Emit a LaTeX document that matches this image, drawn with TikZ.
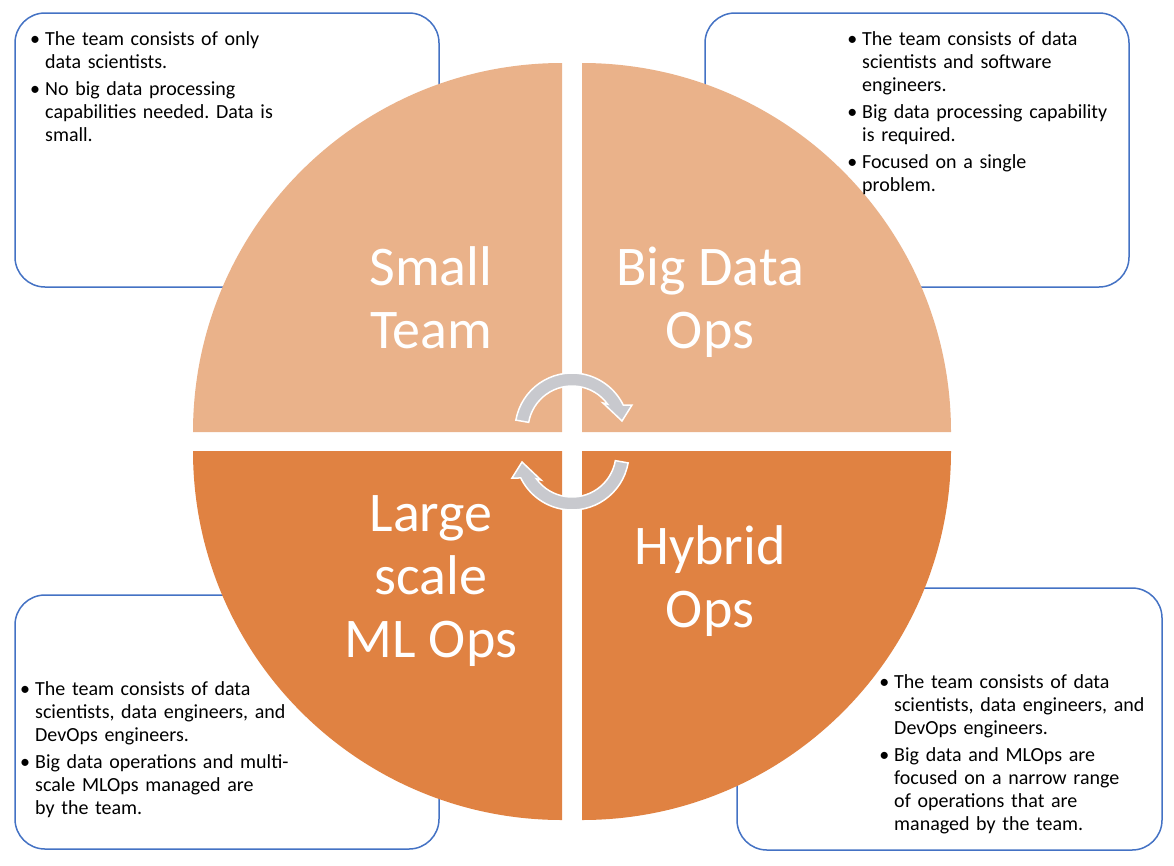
\documentclass[tikz,border=0pt]{standalone}
\usepackage{fontspec}
\setmainfont{Carlito}
\usepackage{enumitem}
\usepackage{tikz}
\usetikzlibrary{calc}
\setlist[itemize]{leftmargin=13pt,labelsep=5pt,itemsep=4pt,topsep=0pt,parsep=0pt,partopsep=0pt}
\frenchspacing

\definecolor{lightorange}{RGB}{234,178,138}
\definecolor{darkorange}{RGB}{224,130,66}
\definecolor{boxblue}{RGB}{68,114,196}
\definecolor{arrowgray}{RGB}{200,201,206}

\tikzset{
	infobox/.style={draw=boxblue, line width=1.5pt, rounded corners=30pt, fill=white, inner sep=0pt},
	quadlabel/.style={text=white, font=\fontsize{56}{63}\selectfont, align=center, anchor=base},
	bullets/.style={font=\fontsize{20}{23}\selectfont, text width=300pt, align=left, inner sep=0pt, anchor=base west},
	cycarrow/.style={fill=arrowgray, draw=white, line width=1.5pt}
}

\begin{document}
\begin{tikzpicture}[x=1pt, y=1pt]
	\useasboundingbox (0,0) rectangle (1174,-865);

	\node[infobox, minimum width=424, minimum height=274] (boxSmall) at (227,-150)   {};
	\node[infobox, minimum width=424, minimum height=274] (boxBig)   at (917,-150)   {};
	\node[infobox, minimum width=424, minimum height=254] (boxLarge) at (227,-722)   {};
	\node[infobox, minimum width=425, minimum height=262] (boxHybrid) at (949.5,-719) {};

	\fill[lightorange] (562,-432) -- (193,-432) arc[start angle=180, end angle=90, radius=369] -- cycle;
	\fill[lightorange] (582,-432) -- (582,-63) arc[start angle=90, end angle=0, radius=369] -- cycle;
	\fill[darkorange] (562,-451) -- (562,-820) arc[start angle=-90, end angle=-180, radius=369] -- cycle;
	\fill[darkorange] (582,-451) -- (951,-451) arc[start angle=0, end angle=-90, radius=369] -- cycle;

	\coordinate (topc) at (572,-430);
	\coordinate (botc) at (572,-453);
	\draw[cycarrow] ($(topc)+(170:57)$) arc[start angle=170, end angle=26, radius=57]
		-- (632,-405) -- (622,-421) -- (603,-403)
		-- ($(topc)+(36:44)$) arc[start angle=36, end angle=170, radius=44] -- cycle;
	\draw[cycarrow] ($(botc)+(-10:57)$) arc[start angle=-10, end angle=-154, radius=57]
		-- (512,-478) -- (522,-462) -- (541,-480)
		-- ($(botc)+(-144:44)$) arc[start angle=-144, end angle=-10, radius=44] -- cycle;

	\node[quadlabel] (lblSmall)  at (431,-348) {Small\\Team};
	\node[quadlabel] (lblBig)    at (710,-348) {Big Data\\Ops};
	\node[quadlabel] (lblLarge)  at (431,-657) {Large\\scale\\ML Ops};
	\node[quadlabel] (lblHybrid) at (710,-627) {Hybrid\\Ops};

	\node[bullets] (txtSmall) at (32,-22) {\begin{itemize}
		\item The team consists of only\newline data scientists.
		\item No big data processing\newline capabilities needed. Data is\newline small.
	\end{itemize}};
	\node[bullets] (txtBig) at (849,-22) {\begin{itemize}
		\item The team consists of data\newline scientists and software\newline engineers.
		\item Big data processing capability\newline is required.
		\item Focused on a single\newline problem.
	\end{itemize}};
	\node[bullets] (txtLarge) at (22,-672) {\begin{itemize}
		\item The team consists of data\newline scientists, data engineers, and\newline DevOps engineers.
		\item Big data operations and multi-\newline scale MLOps managed are\newline by the team.
	\end{itemize}};
	\node[bullets] (txtHybrid) at (881,-665) {\begin{itemize}
		\item The team consists of data\newline scientists, data engineers, and\newline DevOps engineers.
		\item Big data and MLOps are\newline focused on a narrow range\newline of operations that are\newline managed by the team.
	\end{itemize}};
\end{tikzpicture}
\end{document}
